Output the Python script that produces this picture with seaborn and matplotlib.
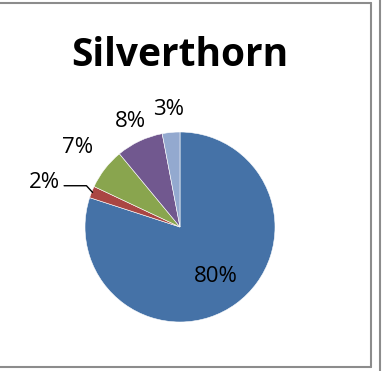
import numpy as np
import matplotlib
matplotlib.use("Agg")
import matplotlib.pyplot as plt
import seaborn as sns
from matplotlib.lines import Line2D

# data
labels = ["80%", "2%", "7%", "8%", "3%"]
values = [80, 2, 7, 8, 3]
colors = ["#4572A7", "#AA4643", "#89A54E", "#71588F", "#93A9CF"]
title = "Silverthorn"

sns.set_theme(style="white")
plt.rcParams["font.family"] = ["Open Sans", "DejaVu Sans"]
plt.rcParams["text.color"] = "black"

W, H = 387, 371
fig = plt.figure(figsize=(W / 100, H / 100), dpi=100)
fig.patch.set_facecolor("white")

# chart frame (grey border like the spreadsheet chart box)
grey = "#8c8c8c"
fig.add_artist(Line2D([0, 371 / W], [1 - 3 / H, 1 - 3 / H], transform=fig.transFigure, color=grey, lw=1.5))
fig.add_artist(Line2D([371 / W, 371 / W], [1 - 3 / H, 1 - 367 / H], transform=fig.transFigure, color=grey, lw=1.5))
fig.add_artist(Line2D([0, 371 / W], [1 - 367 / H, 1 - 367 / H], transform=fig.transFigure, color=grey, lw=1.5))
fig.add_artist(Line2D([380 / W, 380 / W], [0, 1], transform=fig.transFigure, color=grey, lw=1.5))

fig.text(180 / W, 1 - 55 / H, title, ha="center", va="center", fontsize=28, fontweight="bold")

# pie axes: centre (180, 227), radius 95 px
r = 95
ax = fig.add_axes([(180 - r) / W, (H - 227 - r) / H, 2 * r / W, 2 * r / H])
wedges, _ = ax.pie(values, colors=colors, startangle=90, counterclock=False, radius=1,
                   wedgeprops=dict(linewidth=0.4, edgecolor="white"))
ax.set_xlim(-1, 1)
ax.set_ylim(-1, 1)
ax.set_aspect("equal")
ax.axis("off")

dist = [0.65, 1.5, 1.37, 1.23, 1.24]
fs = 16
for w, lab, d in zip(wedges, labels, dist):
    ang = np.deg2rad((w.theta1 + w.theta2) / 2)
    x, y = d * np.cos(ang), d * np.sin(ang)
    if lab == "2%":
        y0 = 0.99 * np.sin(ang)
        ax.plot([0.99 * np.cos(ang), 0.93 * np.cos(ang) - 0.12, -1.22],
                [y0, y0 + 0.07, y0 + 0.07], color="black", lw=1, clip_on=False)
        ax.text(-1.26, y0 + 0.1, lab, ha="right", va="center", fontsize=fs, clip_on=False)
    else:
        ax.text(x, y, lab, ha="center", va="center", fontsize=fs, clip_on=False)

fig.savefig("out.png", dpi=100)
